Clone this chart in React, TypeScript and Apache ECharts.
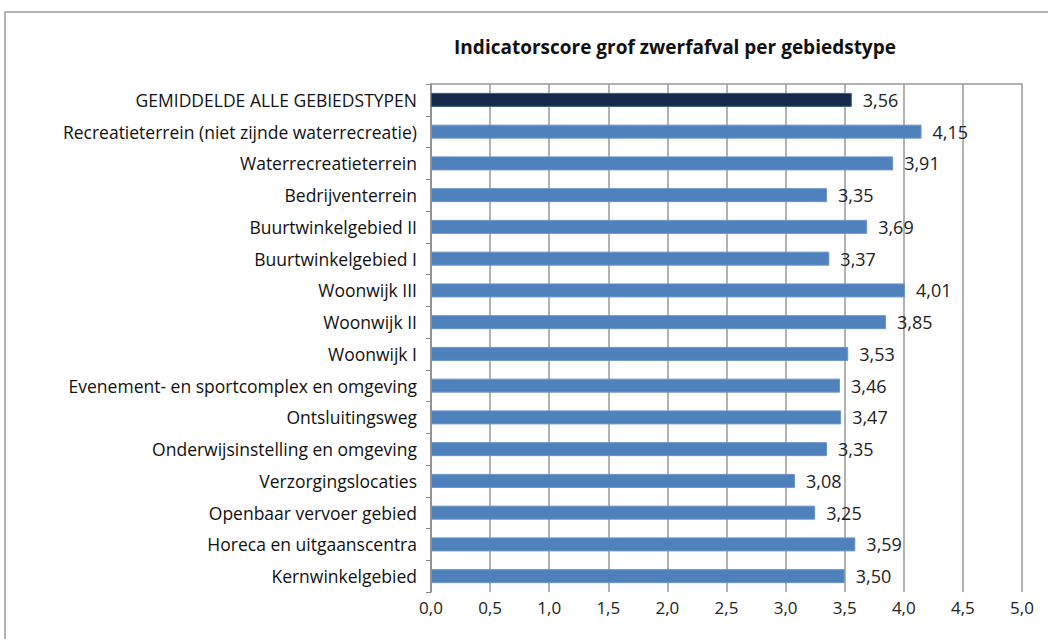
import React, { useEffect, useRef } from "react";
import * as echarts from "echarts";

const categories = [
  "GEMIDDELDE ALLE GEBIEDSTYPEN",
  "Recreatieterrein (niet zijnde waterrecreatie)",
  "Waterrecreatieterrein",
  "Bedrijventerrein",
  "Buurtwinkelgebied II",
  "Buurtwinkelgebied I",
  "Woonwijk III",
  "Woonwijk II",
  "Woonwijk I",
  "Evenement- en sportcomplex en omgeving",
  "Ontsluitingsweg",
  "Onderwijsinstelling en omgeving",
  "Verzorgingslocaties",
  "Openbaar vervoer gebied",
  "Horeca en uitgaanscentra",
  "Kernwinkelgebied",
];
const values = [3.56, 4.15, 3.91, 3.35, 3.69, 3.37, 4.01, 3.85, 3.53, 3.46, 3.47, 3.35, 3.08, 3.25, 3.59, 3.5];
const title = "Indicatorscore grof zwerfafval per gebiedstype";

const FONT = "'Open Sans', sans-serif";

export default function App() {
  const ref = useRef<HTMLDivElement>(null);
  useEffect(() => {
    if (!ref.current) return;
    const chart = echarts.init(ref.current, null, { renderer: "svg" });
    const fmt = (v: number) => v.toFixed(2).replace(".", ",");
    chart.setOption({
      animation: false,
      backgroundColor: "#fff",
      title: {
        text: title,
        left: 670,
        textAlign: "center",
        top: 32,
        textStyle: { fontFamily: FONT, fontSize: 19, fontWeight: "bold", color: "#111" },
      },
      graphic: [
        {
          type: "rect",
          shape: { x: 5, y: 12, width: 1100, height: 700 },
          style: { fill: "none", stroke: "#b4b4b4", lineWidth: 2 },
          z: 100,
        },
      ],
      grid: { left: 431, top: 84, width: 591, height: 508 },
      xAxis: [
        {
          type: "value",
          min: 0,
          max: 5,
          interval: 0.5,
          position: "bottom",
          axisLine: { show: false },
          axisTick: { show: false },
          splitLine: { show: true, lineStyle: { color: "#999", width: 1.5 } },
          axisLabel: {
            formatter: (v: number) => v.toFixed(1).replace(".", ","),
            fontFamily: FONT,
            fontSize: 17,
            color: "#222",
            margin: 7,
          },
        },
        {
          type: "value",
          min: 0,
          max: 5,
          interval: 0.5,
          position: "top",
          axisLine: { show: true, lineStyle: { color: "#999", width: 1.5 } },
          axisTick: { show: false },
          axisLabel: { show: false },
          splitLine: { show: false },
        },
      ],
      yAxis: {
        type: "category",
        data: categories,
        inverse: true,
        axisLine: { show: true, lineStyle: { color: "#888", width: 1.5 } },
        axisTick: { show: true, length: 5, lineStyle: { color: "#888" } },
        axisLabel: { fontFamily: FONT, fontSize: 17.5, color: "#111", margin: 14 },
      },
      series: [
        {
          type: "bar",
          xAxisIndex: 0,
          barWidth: 14,
          data: values.map((v, i) => ({
            value: v,
            itemStyle: i === 0
              ? { color: "#15294a", borderColor: "#3a5a8a", borderWidth: 1 }
              : { color: "#4f81bd", borderColor: "#6b95c8", borderWidth: 1 },
          })),
          label: {
            show: true,
            position: "right",
            distance: 11,
            formatter: (p: any) => fmt(p.value),
            fontFamily: FONT,
            fontSize: 18,
            color: "#222",
          },
        },
      ],
    });
    return () => chart.dispose();
  }, []);
  return (
    <div
      ref={ref}
      style={{ position: "absolute", left: 0, top: 0, width: 1048, height: 639 }}
    />
  );
}
